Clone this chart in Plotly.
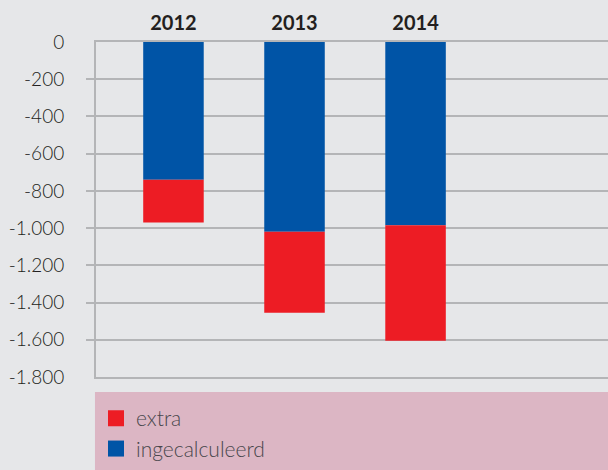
import plotly.graph_objects as go

years = ["2012", "2013", "2014"]
ingecalculeerd = [-740, -1020, -985]
extra = [-230, -435, -620]
tick_vals = [0, -200, -400, -600, -800, -1000, -1200, -1400, -1600, -1800]
tick_text = ["0", "-200", "-400", "-600", "-800", "-1.000", "-1.200", "-1.400", "-1.600", "-1.800"]

BLUE = "#0054a6"
RED = "#ed1c24"
BG = "#e6e7e9"
GRID = "#b4b5b7"

fig = go.Figure()
fig.add_trace(go.Bar(x=years, y=ingecalculeerd, name="ingecalculeerd", marker_color=BLUE,
                     marker_line_width=0, width=0.5, showlegend=False))
fig.add_trace(go.Bar(x=years, y=extra, name="extra", marker_color=RED,
                     marker_line_width=0, width=0.5, showlegend=False))
# legend entries
fig.add_trace(go.Scatter(x=[None], y=[None], mode="markers", name="extra",
                         marker=dict(symbol="square", size=16, color=RED)))
fig.add_trace(go.Scatter(x=[None], y=[None], mode="markers", name="ingecalculeerd",
                         marker=dict(symbol="square", size=16, color=BLUE)))
# tick marks only axis
fig.add_trace(go.Scatter(x=[None], y=[None], yaxis="y2", showlegend=False))

fig.update_layout(
    width=608, height=470,
    margin=dict(l=96, r=0, t=42, b=93, autoexpand=False),
    paper_bgcolor=BG, plot_bgcolor=BG,
    barmode="relative",
    font=dict(family="Lato", color="#231f20", size=19),
    xaxis=dict(type="category", side="top", range=[-0.64, 3.59],
               showgrid=False, ticks="", showline=True, mirror=True,
               linecolor=GRID, linewidth=2,
               tickfont=dict(size=20, family="Lato", weight="bold", color="#231f20"),
               ticklabelstandoff=2),
    yaxis=dict(range=[-1800, 0], tickvals=tick_vals, ticktext=tick_text,
               showgrid=True, gridcolor=GRID, gridwidth=1.5, zeroline=False,
               showline=True, linecolor=GRID, linewidth=2, ticks="",
               ticklabelstandoff=26,
               tickfont=dict(size=19, family="Lato", weight=300, color="#231f20")),
    yaxis2=dict(range=[-1800, 0], overlaying="y", side="left",
                tickvals=tick_vals[1:-1], ticks="outside", ticklen=9,
                tickcolor=GRID, tickwidth=1.5, showticklabels=False,
                showgrid=False, zeroline=False, showline=False),
    showlegend=True,
    legend=dict(x=0.0, xref="paper", y=-0.063, yanchor="top", xanchor="left",
                bgcolor="rgba(0,0,0,0)", borderwidth=0,
                font=dict(size=21, family="Lato", weight=300, color="#48474c"),
                itemsizing="trace", tracegroupgap=0),
    shapes=[dict(type="rect", xref="paper", yref="paper",
                 x0=-0.002, x1=1.0, y0=-0.287, y1=-0.045,
                 fillcolor="#dcb6c4", line_width=0, layer="below")],
)

fig.write_html("out.html")
